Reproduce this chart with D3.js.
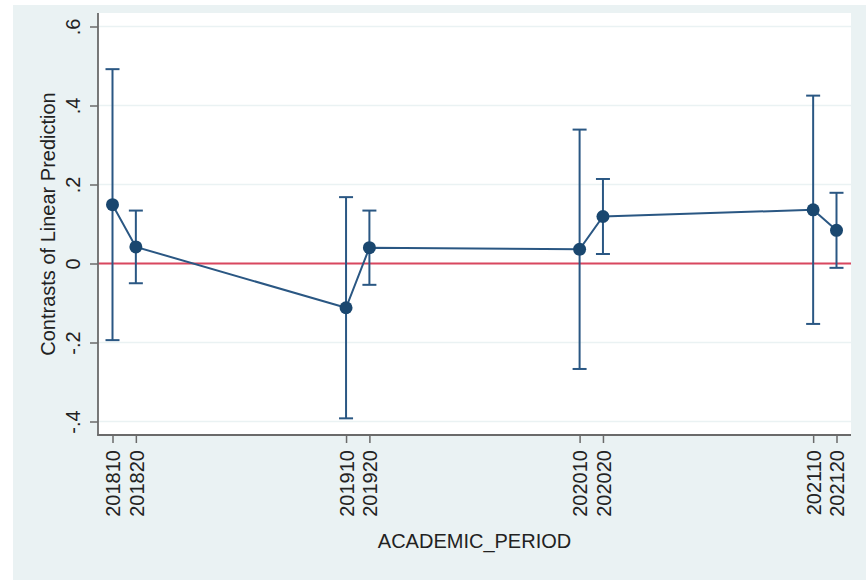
<!DOCTYPE html>
<html>
<head>
<meta charset="utf-8">
<script src="https://cdn.jsdelivr.net/npm/d3@7"></script>
<style>
  html, body { margin: 0; padding: 0; background: #ffffff; }
  svg { display: block; }
  text { font-family: "Liberation Sans", Arial, Helvetica, sans-serif; fill: #222; }
</style>
</head>
<body>
<svg id="chart" width="866" height="580"></svg>
<script>
// Academic periods (x positions are the numeric period codes)
const periods = [201810, 201820, 201910, 201920, 202010, 202020, 202110, 202120];
// Contrast estimates and 95% confidence limits
const estimates = [0.149, 0.042, -0.112, 0.040, 0.036, 0.119, 0.136, 0.084];
const lower     = [-0.194, -0.050, -0.392, -0.054, -0.267, 0.024, -0.153, -0.011];
const upper     = [0.492, 0.134, 0.168, 0.134, 0.339, 0.214, 0.425, 0.179];
// Axis tick values and labels
const yTicks = [-0.4, -0.2, 0, 0.2, 0.4, 0.6];
const yTickLabels = ["-.4", "-.2", "0", ".2", ".4", ".6"];
const xTickLabels = ["201810", "201820", "201910", "201920", "202010", "202020", "202110", "202120"];

const rows = periods.map((p, i) => ({ p, est: estimates[i], lo: lower[i], hi: upper[i] }));

const svg = d3.select("#chart");
const W = 866, H = 580;
const plot = { left: 98, right: 851, top: 13, bottom: 435 };

const navy = "#1a476f";
const bg = "#eaf2f3";

// Outer graph region
svg.append("rect").attr("x", 13).attr("y", 5).attr("width", W - 13).attr("height", H - 5).attr("fill", bg);
// Plot region
svg.append("rect").attr("x", plot.left).attr("y", plot.top)
  .attr("width", plot.right - plot.left).attr("height", plot.bottom - plot.top).attr("fill", "#ffffff");

const x = d3.scaleLinear().domain([201810, 202120]).range([112.5, 836.5]);
const y = d3.scaleLinear().domain([-0.4, 0.6]).range([421.5, 26.5]);

// Horizontal grid lines
svg.append("g").selectAll("line").data(yTicks).join("line")
  .attr("x1", plot.left).attr("x2", plot.right)
  .attr("y1", d => y(d)).attr("y2", d => y(d))
  .attr("stroke", bg).attr("stroke-width", 1.6);

// Reference line at zero
svg.append("line")
  .attr("x1", plot.left).attr("x2", plot.right)
  .attr("y1", y(0)).attr("y2", y(0))
  .attr("stroke", "#d9475f").attr("stroke-width", 2);

// Y axis
const yAxis = d3.axisLeft(y).tickValues(yTicks)
  .tickFormat((d, i) => yTickLabels[i]).tickSize(8).tickSizeOuter(0);
const gy = svg.append("g").attr("transform", `translate(${plot.left},0)`).call(yAxis);
gy.select(".domain").remove();
gy.selectAll(".tick line").attr("stroke", "#6a6a6a").attr("stroke-width", 1.5);
gy.selectAll(".tick text")
  .attr("transform", "rotate(-90)")
  .attr("x", 0).attr("y", -18).attr("dy", 0)
  .attr("text-anchor", "middle")
  .style("font-size", "20px").attr("fill", "#222");
svg.append("line").attr("x1", plot.left).attr("x2", plot.left)
  .attr("y1", plot.top).attr("y2", plot.bottom + 0.75)
  .attr("stroke", "#6a6a6a").attr("stroke-width", 1.8);

// X axis
const xAxis = d3.axisBottom(x).tickValues(periods)
  .tickFormat((d, i) => xTickLabels[i]).tickSize(8).tickSizeOuter(0);
const gx = svg.append("g").attr("transform", `translate(0,${plot.bottom})`).call(xAxis);
gx.select(".domain").remove();
gx.selectAll(".tick line").attr("stroke", "#6a6a6a").attr("stroke-width", 1.5);
gx.selectAll(".tick text")
  .attr("transform", "rotate(-90)")
  .attr("x", -15).attr("y", 0).attr("dy", "0.36em")
  .attr("text-anchor", "end")
  .style("font-size", "20px").attr("fill", "#222");
svg.append("line").attr("x1", plot.left - 0.75).attr("x2", plot.right)
  .attr("y1", plot.bottom).attr("y2", plot.bottom)
  .attr("stroke", "#6a6a6a").attr("stroke-width", 1.8);

// Confidence interval bars with caps
const ci = svg.append("g").attr("stroke", "#2a5783").attr("stroke-width", 2).attr("fill", "none");
ci.selectAll("line.bar").data(rows).join("line").attr("class", "bar")
  .attr("x1", d => x(d.p)).attr("x2", d => x(d.p))
  .attr("y1", d => y(d.lo)).attr("y2", d => y(d.hi));
ci.selectAll("line.capHi").data(rows).join("line").attr("class", "capHi")
  .attr("x1", d => x(d.p) - 7).attr("x2", d => x(d.p) + 7)
  .attr("y1", d => y(d.hi)).attr("y2", d => y(d.hi));
ci.selectAll("line.capLo").data(rows).join("line").attr("class", "capLo")
  .attr("x1", d => x(d.p) - 7).attr("x2", d => x(d.p) + 7)
  .attr("y1", d => y(d.lo)).attr("y2", d => y(d.lo));

// Connected estimates
const line = d3.line().x(d => x(d.p)).y(d => y(d.est));
svg.append("path").datum(rows).attr("d", line)
  .attr("fill", "none").attr("stroke", "#2a5783").attr("stroke-width", 2);
svg.append("g").selectAll("circle").data(rows).join("circle")
  .attr("cx", d => x(d.p)).attr("cy", d => y(d.est)).attr("r", 6.5)
  .attr("fill", navy);

// Axis titles
svg.append("text")
  .attr("x", (plot.left + plot.right) / 2).attr("y", 548)
  .attr("text-anchor", "middle").style("font-size", "20px")
  .text("ACADEMIC_PERIOD");
svg.append("text")
  .attr("transform", `translate(55,${(plot.top + plot.bottom) / 2}) rotate(-90)`)
  .attr("text-anchor", "middle").style("font-size", "20px")
  .text("Contrasts of Linear Prediction");
</script>
</body>
</html>
